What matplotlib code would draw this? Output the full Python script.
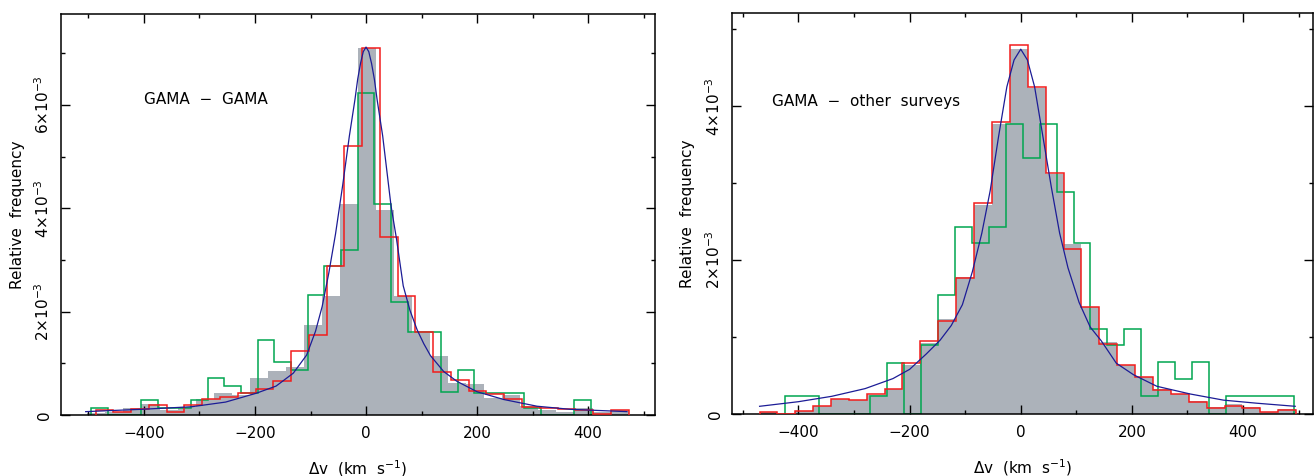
import matplotlib
matplotlib.use('Agg')
import matplotlib.pyplot as plt

plt.rcParams['font.family'] = ['DejaVu Sans']
plt.rcParams['font.size'] = 11

# ---------------- data (relative frequency in units of 1e-3) ----------------
# Left panel: GAMA - GAMA
left_gray_edges = [-502, -469.5, -437, -404.5, -372, -339.5, -307, -274.5, -242, -209.5,
                   -177, -144.5, -112, -79.5, -47, -14.5, 18, 50.5, 83, 115.5,
                   148, 180.5, 213, 245.5, 278, 310.5, 343, 375.5, 408, 440.5, 473]
left_gray_vals = [0.03, 0.05, 0.13, 0.21, 0.10, 0.16, 0.31, 0.42, 0.38, 0.71,
                  0.86, 0.92, 1.75, 2.31, 4.08, 7.10, 3.97, 2.31, 1.58, 1.15,
                  0.62, 0.60, 0.32, 0.39, 0.17, 0.10, 0.06, 0.14, 0.05, 0.10]

left_red_edges = [-487, -455, -423, -391, -359, -327, -295, -263, -231, -199,
                  -167, -135, -103, -71, -39, -7, 25, 57, 89, 121,
                  153, 185, 217, 249, 281, 313, 345, 377, 409, 441, 473]
left_red_vals = [0.10, 0.06, 0.11, 0.19, 0.05, 0.19, 0.30, 0.35, 0.42, 0.50,
                 0.66, 1.23, 1.55, 2.88, 5.21, 7.10, 3.44, 2.31, 1.60, 0.83,
                 0.68, 0.47, 0.40, 0.31, 0.15, 0.13, 0.11, 0.10, 0.01, 0.10]

left_green_edges = [-495, -465, -435, -405, -375, -345, -315, -285, -255, -225,
                    -195, -165, -135, -105, -75, -45, -15, 15, 45, 75,
                    105, 135, 165, 195, 225, 255, 285, 315, 345, 375, 405]
left_green_vals = [0.14, 0.0, 0.0, 0.29, 0.14, 0.14, 0.29, 0.72, 0.56, 0.43,
                   1.45, 1.02, 0.87, 2.32, 2.89, 3.19, 6.23, 4.08, 2.18, 1.60,
                   1.60, 0.45, 0.87, 0.43, 0.43, 0.43, 0.14, 0.0, 0.0, 0.29]

left_fit_x = [-505, -450, -405, -350, -314, -253, -198, -162, -131, -107, -91, -79, -67,
              -55, -42, -30, -20, -15, -10, -5, 0, 5, 10, 15, 20, 30, 45, 55, 67, 79,
              92, 104, 116, 140, 164, 200, 248, 308, 368, 470]
left_fit_y = [0.065, 0.09, 0.11, 0.14, 0.16, 0.25, 0.42, 0.56, 0.81, 1.16, 1.62, 2.10, 2.75,
              3.50, 4.45, 5.40, 6.10, 6.50, 6.80, 7.03, 7.12, 7.03, 6.80, 6.50, 6.10, 5.40,
              4.05, 3.40, 2.50, 2.03, 1.65, 1.38, 1.15, 0.84, 0.65, 0.45, 0.30, 0.17, 0.11, 0.065]

# Right panel: GAMA - other surveys
right_gray_edges = [-470, -438, -406, -374, -342, -309, -277, -245, -213, -181,
                    -148, -116, -84, -52, -19.5, 12.5, 45, 77, 109, 141.5,
                    173.5, 206, 238, 270, 302.5, 334.5, 367, 399, 431, 463.5, 495.5]
right_gray_vals = [0.03, 0.0, 0.04, 0.10, 0.20, 0.18, 0.25, 0.33, 0.64, 0.92,
                   1.24, 1.78, 2.71, 3.77, 4.74, 4.24, 3.12, 2.21, 1.39, 0.93,
                   0.64, 0.48, 0.33, 0.26, 0.17, 0.09, 0.13, 0.09, 0.03, 0.06]
right_red_vals = [0.03, 0.0, 0.04, 0.10, 0.19, 0.18, 0.26, 0.32, 0.66, 0.95,
                  1.21, 1.77, 2.74, 3.79, 4.80, 4.25, 3.13, 2.14, 1.39, 0.91,
                  0.64, 0.48, 0.31, 0.26, 0.16, 0.08, 0.11, 0.08, 0.02, 0.05]

right_green_edges = [-423.5, -393, -362.5, -332, -301.5, -271, -240.5, -210, -179.5, -149,
                     -118.5, -88, -57.5, -27, 3.5, 34, 64.5, 95, 125.5, 156,
                     186.5, 217, 247.5, 278, 308.5, 339, 369.5, 400, 430.5, 461, 491.5]
right_green_vals = [0.23, 0.23, 0.0, 0.0, 0.0, 0.23, 0.66, 0.0, 0.89, 1.55,
                    2.43, 2.22, 2.43, 3.77, 3.33, 3.77, 2.88, 2.22, 1.11, 0.89,
                    1.11, 0.23, 0.67, 0.45, 0.67, 0.0, 0.23, 0.23, 0.23, 0.23]

right_fit_x = [-470, -400, -340, -280, -230, -200, -170, -145, -125, -105, -87, -70, -55,
               -40, -25, -12, 0, 12, 25, 40, 55, 70, 85, 105, 125, 145, 172, 203, 245,
               305, 365, 425, 494]
right_fit_y = [0.10, 0.16, 0.23, 0.33, 0.46, 0.58, 0.78, 0.96, 1.15, 1.42, 1.85, 2.35, 2.90,
               3.60, 4.25, 4.60, 4.74, 4.60, 4.25, 3.60, 2.95, 2.35, 1.90, 1.45, 1.13, 0.95,
               0.66, 0.51, 0.36, 0.26, 0.18, 0.14, 0.10]

x_major = [-400, -200, 0, 200, 400]
x_major_labels = ['\u2212400', '\u2212200', '0', '200', '400']
x_minor = [-500, -300, -100, 100, 300, 500]
left_y_major = [0, 2, 4, 6]
left_y_minor = [1, 3, 5, 7]
right_y_major = [0, 2, 4]
right_y_minor = [1, 3, 5]
y_labels_all = {0: '0', 2: r'2$\times$10$^{-3}$', 4: r'4$\times$10$^{-3}$', 6: r'6$\times$10$^{-3}$'}

left_title = 'GAMA  \u2212  GAMA'
right_title = 'GAMA  \u2212  other  surveys'
xlabel_text = r'$\Delta$v  (km  s$^{-1}$)'
ylabel_text = 'Relative  frequency'

GRAY = '#acb2ba'
RED = '#f21c1c'
GREEN = '#00a650'
BLUE = '#1c1c96'

W, H = 1314, 476
fig = plt.figure(figsize=(W / 100, H / 100), dpi=100)

axL = fig.add_axes([60.7 / W, (H - 415) / H, 594 / W, 401 / H])
axR = fig.add_axes([731.8 / W, (H - 414) / H, 581.2 / W, 401 / H])


def style(ax, xlim, ylim, ymaj, ymin, ylab_x):
    ax.set_xlim(*xlim)
    ax.set_ylim(*ylim)
    ax.set_xticks(x_major, x_major_labels)
    ax.set_xticks(x_minor, minor=True)
    ax.set_yticks(ymaj, [y_labels_all[v] for v in ymaj], rotation=90, va='center')
    ax.set_yticks(ymin, minor=True)
    ax.tick_params(which='both', direction='in', top=True, right=True, width=1.0)
    ax.tick_params(which='major', length=6.2)
    ax.tick_params(which='minor', length=3.0)
    ax.tick_params(axis='x', which='major', pad=8)
    ax.tick_params(axis='y', which='major', pad=6)
    for s in ax.spines.values():
        s.set_linewidth(1.1)
    ax.set_xlabel(xlabel_text)
    ax.xaxis.set_label_coords(0.5, -0.107)
    ax.set_ylabel(ylabel_text)
    ax.yaxis.set_label_coords(ylab_x, 0.5)


# Left panel
axL.stairs(left_gray_vals, left_gray_edges, fill=True, color=GRAY, zorder=1)
axL.stairs(left_green_vals, left_green_edges, color=GREEN, linewidth=1.1, zorder=2)
axL.stairs(left_red_vals, left_red_edges, color=RED, linewidth=1.1, zorder=3)
axL.plot(left_fit_x, left_fit_y, color=BLUE, linewidth=0.9, zorder=4)
axL.text(0.140, 0.786, left_title, transform=axL.transAxes, ha='left', va='center')
style(axL, (-550, 520), (0, 7.76), left_y_major, left_y_minor, -0.060)

# Right panel
axR.stairs(right_gray_vals, right_gray_edges, fill=True, color=GRAY, zorder=1)
axR.stairs(right_green_vals, right_green_edges, color=GREEN, linewidth=1.1, zorder=2)
axR.stairs(right_red_vals, right_gray_edges, color=RED, linewidth=1.1, zorder=3)
axR.plot(right_fit_x, right_fit_y, color=BLUE, linewidth=0.9, zorder=4)
axR.text(0.069, 0.779, right_title, transform=axR.transAxes, ha='left', va='center')
style(axR, (-520, 526), (0, 5.21), right_y_major, right_y_minor, -0.0625)

fig.savefig('out.png', dpi=100)
